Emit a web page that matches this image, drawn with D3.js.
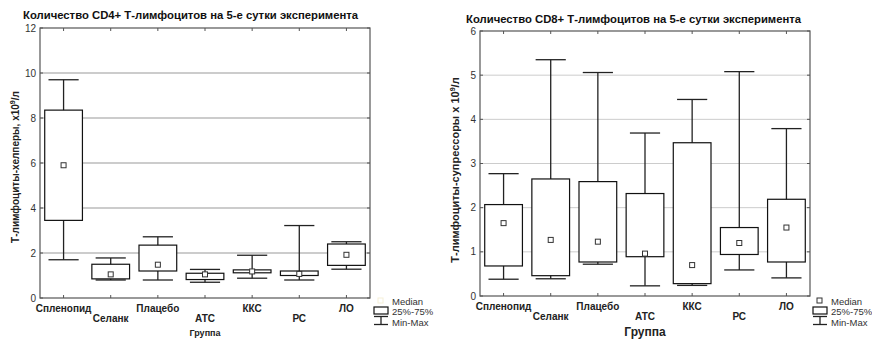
<!DOCTYPE html>
<html>
<head>
<meta charset="utf-8">
<script src="https://cdn.jsdelivr.net/npm/d3@7"></script>
<style>
  body { margin: 0; background: #fff; }
  text { font-family: "Liberation Sans", Arial, sans-serif; }
</style>
</head>
<body>
<script>
var groups = ["Спленопид", "Селанк", "Плацебо", "АТС", "ККС", "РС", "ЛО"];

// CD4+ (T-helpers)
var cd4Min = [1.7, 0.8, 0.8, 0.7, 0.88, 0.8, 1.28];
var cd4Q1  = [3.45, 0.85, 1.2, 0.82, 1.12, 1.0, 1.45];
var cd4Med = [5.9, 1.05, 1.48, 1.05, 1.18, 1.07, 1.92];
var cd4Q3  = [8.35, 1.5, 2.35, 1.1, 1.25, 1.2, 2.4];
var cd4Max = [9.7, 1.78, 2.72, 1.27, 1.9, 3.22, 2.5];
var cd4Ticks = [0, 2, 4, 6, 8, 10, 12];

// CD8+ (T-suppressors)
var cd8Min = [0.38, 0.39, 0.72, 0.23, 0.24, 0.59, 0.41];
var cd8Q1  = [0.68, 0.46, 0.77, 0.89, 0.28, 0.94, 0.77];
var cd8Med = [1.65, 1.27, 1.23, 0.96, 0.7, 1.2, 1.55];
var cd8Q3  = [2.07, 2.65, 2.59, 2.32, 3.47, 1.55, 2.19];
var cd8Max = [2.77, 5.35, 5.06, 3.69, 4.45, 5.08, 3.79];
var cd8Ticks = [0, 1, 2, 3, 4, 5, 6];

var svg = d3.select("body").append("svg")
    .attr("width", 872)
    .attr("height", 339);

function drawChart(o) {
    var g = svg.append("g");
    var x = d3.scaleBand().domain(groups).range([o.left, o.right]);
    var y = d3.scaleLinear().domain([0, o.ticks[o.ticks.length - 1]]).range([o.bottom, o.top]);

    // grid
    g.selectAll(".grid")
        .data(o.ticks.slice(1, -1))
        .enter()
        .append("line")
        .attr("x1", o.left).attr("x2", o.right)
        .attr("y1", function(d) { return y(d); })
        .attr("y2", function(d) { return y(d); })
        .attr("stroke", o.gridColor)
        .attr("stroke-width", 1);

    // frame
    g.append("rect")
        .attr("x", o.left).attr("y", o.top)
        .attr("width", o.right - o.left).attr("height", o.bottom - o.top)
        .attr("fill", "none")
        .attr("stroke", "#555")
        .attr("stroke-width", 1.2);

    // y ticks (inside, both sides)
    o.ticks.forEach(function(t) {
        g.append("line").attr("x1", o.left).attr("x2", o.left + 3)
            .attr("y1", y(t)).attr("y2", y(t)).attr("stroke", "#555");
        g.append("line").attr("x1", o.right).attr("x2", o.right - 3)
            .attr("y1", y(t)).attr("y2", y(t)).attr("stroke", "#555");
    });
    g.selectAll(".ytl")
        .data(o.ticks)
        .enter()
        .append("text")
        .attr("x", o.left - 4)
        .attr("y", function(d) { return y(d) + 3.5; })
        .attr("text-anchor", "end")
        .attr("font-size", "10px")
        .attr("fill", "#333")
        .text(function(d) { return d; });

    // x ticks (inside, top and bottom)
    groups.forEach(function(c) {
        var cx = x(c) + x.bandwidth() / 2;
        g.append("line").attr("x1", cx).attr("x2", cx)
            .attr("y1", o.bottom).attr("y2", o.bottom - 3).attr("stroke", "#555");
        g.append("line").attr("x1", cx).attr("x2", cx)
            .attr("y1", o.top).attr("y2", o.top + 3).attr("stroke", "#555");
    });

    var bw = x.bandwidth() * 0.8;
    var cw = x.bandwidth() * 0.64;
    var boxes = g.selectAll(".box")
        .data(groups)
        .enter()
        .append("g");

    // whiskers
    boxes.append("line")
        .attr("x1", function(d) { return x(d) + x.bandwidth() / 2; })
        .attr("x2", function(d) { return x(d) + x.bandwidth() / 2; })
        .attr("y1", function(d, i) { return y(o.max[i]); })
        .attr("y2", function(d, i) { return y(o.min[i]); })
        .attr("stroke", "#222").attr("stroke-width", 1.3);
    boxes.append("line")
        .attr("x1", function(d) { return x(d) + (x.bandwidth() - cw) / 2; })
        .attr("x2", function(d) { return x(d) + (x.bandwidth() + cw) / 2; })
        .attr("y1", function(d, i) { return y(o.max[i]); })
        .attr("y2", function(d, i) { return y(o.max[i]); })
        .attr("stroke", "#222").attr("stroke-width", 1.3);
    boxes.append("line")
        .attr("x1", function(d) { return x(d) + (x.bandwidth() - cw) / 2; })
        .attr("x2", function(d) { return x(d) + (x.bandwidth() + cw) / 2; })
        .attr("y1", function(d, i) { return y(o.min[i]); })
        .attr("y2", function(d, i) { return y(o.min[i]); })
        .attr("stroke", "#222").attr("stroke-width", 1.3);

    // boxes
    boxes.append("rect")
        .attr("x", function(d) { return x(d) + (x.bandwidth() - bw) / 2; })
        .attr("y", function(d, i) { return y(o.q3[i]); })
        .attr("width", bw)
        .attr("height", function(d, i) { return y(o.q1[i]) - y(o.q3[i]); })
        .attr("fill", "#fff")
        .attr("stroke", "#111").attr("stroke-width", 1.2);

    // medians
    boxes.append("rect")
        .attr("x", function(d) { return x(d) + x.bandwidth() / 2 - 2.5; })
        .attr("y", function(d, i) { return y(o.med[i]) - 2.5; })
        .attr("width", 5).attr("height", 5)
        .attr("fill", "#fff")
        .attr("stroke", "#333").attr("stroke-width", 1);

    // category labels (staggered)
    g.selectAll(".xl")
        .data(groups)
        .enter()
        .append("text")
        .attr("x", function(d) { return x(d) + x.bandwidth() / 2; })
        .attr("y", function(d, i) { return i % 2 === 0 ? o.lab1 : o.lab2; })
        .attr("text-anchor", "middle")
        .attr("font-size", "10px")
        .attr("font-weight", "bold")
        .attr("fill", "#222")
        .text(function(d) { return d; });

    g.append("text")
        .attr("x", (o.left + o.right) / 2 + o.xTitleShift)
        .attr("y", 336)
        .attr("text-anchor", "middle")
        .attr("font-size", o.xTitleSize)
        .attr("font-weight", "bold")
        .attr("fill", "#222")
        .text("Группа");

    g.append("text")
        .attr("x", o.titleX).attr("y", o.titleY)
        .attr("font-size", "11.3px")
        .attr("font-weight", "bold")
        .attr("fill", "#111")
        .text(o.title);

    var yt = g.append("text")
        .attr("transform", "translate(" + o.yTitleX + "," + o.yTitleY + ") rotate(-90)")
        .attr("text-anchor", "middle")
        .attr("font-size", o.yTitleSize)
        .attr("font-weight", "bold")
        .attr("fill", "#222");
    yt.append("tspan").text(o.yTitle);
    yt.append("tspan").attr("font-size", "7px").attr("dy", "-4").text("9");
    yt.append("tspan").attr("dy", "4").text("/л");

    // legend
    var lx = o.legX;
    g.append("rect").attr("x", lx + 3).attr("y", 298).attr("width", 5).attr("height", 5)
        .attr("fill", "#fff").attr("stroke", o.legMedColor).attr("stroke-width", 1);
    g.append("rect").attr("x", lx - 1).attr("y", 307).attr("width", 14).attr("height", 7)
        .attr("fill", "#fff").attr("stroke", "#111").attr("stroke-width", 1.2);
    g.append("line").attr("x1", lx - 1).attr("x2", lx + 13).attr("y1", 316.5).attr("y2", 316.5)
        .attr("stroke", "#222").attr("stroke-width", 1.3);
    g.append("line").attr("x1", lx + 6).attr("x2", lx + 6).attr("y1", 316.5).attr("y2", 324.5)
        .attr("stroke", "#222").attr("stroke-width", 1.3);
    g.append("line").attr("x1", lx - 1).attr("x2", lx + 13).attr("y1", 324.5).attr("y2", 324.5)
        .attr("stroke", "#222").attr("stroke-width", 1.3);
    var legLabels = ["Median", "25%-75%", "Min-Max"];
    g.selectAll(".lt")
        .data(legLabels)
        .enter()
        .append("text")
        .attr("x", lx + 17)
        .attr("y", function(d, i) { return 304.5 + i * 10.5; })
        .attr("font-size", "9.5px")
        .attr("fill", "#333")
        .text(function(d) { return d; });
}

drawChart({
    left: 40, right: 370, top: 28, bottom: 298,
    ticks: cd4Ticks,
    min: cd4Min, q1: cd4Q1, med: cd4Med, q3: cd4Q3, max: cd4Max,
    gridColor: "#999",
    lab1: 312, lab2: 322,
    xTitleSize: "9px", xTitleShift: 0,
    title: "Количество CD4+ Т-лимфоцитов на 5-е сутки эксперимента",
    titleX: 23, titleY: 19,
    yTitle: "Т-лимфоциты-хелперы, х10",
    yTitleX: 19, yTitleY: 167, yTitleSize: "10px",
    legX: 375, legMedColor: "#f5f0d8"
});

drawChart({
    left: 480, right: 810, top: 31, bottom: 296,
    ticks: cd8Ticks,
    min: cd8Min, q1: cd8Q1, med: cd8Med, q3: cd8Q3, max: cd8Max,
    gridColor: "#ccc",
    lab1: 309.5, lab2: 319.5,
    xTitleSize: "12px", xTitleShift: 0,
    title: "Количество CD8+ Т-лимфоцитов на 5-е сутки эксперимента",
    titleX: 466, titleY: 23,
    yTitle: "Т-лимфоциты-супрессоры х 10",
    yTitleX: 459, yTitleY: 170, yTitleSize: "11px",
    legX: 814, legMedColor: "#333"
});
</script>
</body>
</html>
